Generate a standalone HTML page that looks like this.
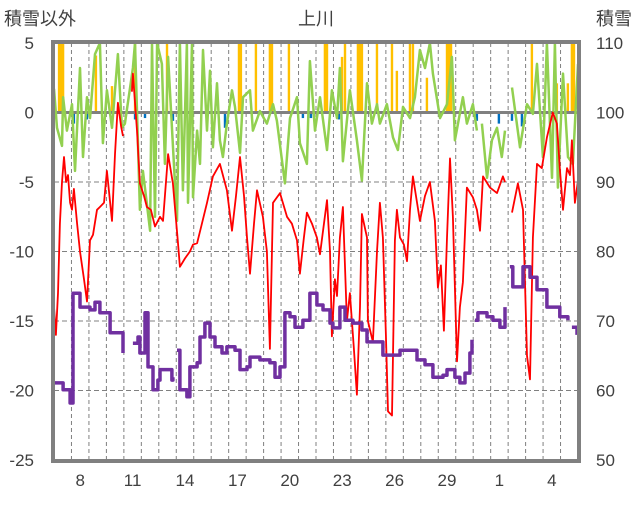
<!DOCTYPE html>
<html><head><meta charset="utf-8"><style>
html,body{margin:0;padding:0;background:#fff;}
svg text{font-family:"Liberation Sans","Noto Sans CJK JP",sans-serif;fill:#404040;}
</style></head><body>
<svg id="chart" width="636" height="501" xmlns="http://www.w3.org/2000/svg">
<g id="grid"></g>
<g id="marks"></g>
<g id="axes"></g>
<text x="4" y="25" font-size="18">積雪以外</text>
<text x="316" y="25" font-size="18" text-anchor="middle">上川</text>
<text x="632" y="25" font-size="18" text-anchor="end">積雪</text>
</svg>
<script>
const leftTicks=[5,0,-5,-10,-15,-20,-25];
const rightTicks=[110,100,90,80,70,60,50];
const dayTickPos=[1,4,7,10,13,16,19,22,25,28];
const dayTickLabels=["8","11","14","17","20","23","26","29","1","4"];
const redT=[0,.11,.23,.34,.46,.57,.69,.80,.92,1.03,1.14,1.32,1.49,1.72,1.89,2.06,2.23,2.46,2.63,2.86,3.03,3.32,3.49,3.66,3.84,3.95,null,4.46,4.52,4.75,4.92,5.15,5.32,5.55,5.78,6.07,6.24,6.53,6.81,7.10,7.21,7.50,7.78,7.96,8.19,8.47,8.76,9.10,9.50,9.90,10.19,10.42,10.65,10.88,11.05,11.22,11.45,11.62,11.96,12.19,12.36,12.54,12.94,13.34,13.62,13.91,14.08,14.31,14.48,14.77,15.05,15.23,15.63,15.80,15.91,16.08,16.20,16.37,16.54,16.77,16.94,17.17,17.34,17.52,17.63,17.92,17.97,18.26,18.49,18.66,18.83,19.00,19.12,19.35,19.52,19.63,19.81,20.03,20.21,20.38,20.55,20.95,21.24,21.52,21.81,21.98,22.15,22.32,22.50,22.67,22.84,23.07,23.24,23.41,23.64,23.98,24.21,24.39,24.56,24.96,25.36,25.70,25.82,null,26.22,26.56,26.85,27.08,27.25,27.42,27.65,27.93,28.22,28.56,28.79,28.96,29.14,29.37,29.54,29.65,29.82,30];
const redV=[-14,-16,-13,-8,-5,-3.2,-5,-4.5,-6.5,-7,-5.5,-8,-10,-12,-13.6,-9.2,-8.8,-7,-6.8,-6.5,-4.2,-7.8,-3,0.7,-1,-1.7,null,1.5,2.8,-1.3,-5.1,-6,-6.8,-7,-8.2,-7.5,-7.8,-3,-5.1,-9.4,-11.1,-10.5,-10,-9.5,-9.4,-8,-6.5,-4.6,-3.7,-5.6,-8.5,-6,-3.2,-6,-9,-11.6,-8,-5.6,-7.5,-10,-17,-6.5,-5.8,-7.5,-8,-9.2,-11.6,-9,-7.2,-8,-9,-10.2,-6.3,-10,-16.1,-12,-13.2,-9,-6.8,-15,-13,-17,-20.3,-14,-7.3,-9,-15,-16.5,-10,-6.5,-9,-16,-21.5,-21.8,-9.2,-7,-9,-9.5,-10.7,-7,-4.6,-7.8,-6,-5,-7.8,-12.6,-11,-15.7,-9,-3.3,-7.5,-17.9,-14,-12.2,-5.4,-6.1,-7,-8.5,-4.6,-5.4,-5.8,-4.6,-5,null,-7.2,-5.1,-7,-17.5,-19.2,-9,-3.7,-4,-1.8,0,-0.8,-4,-7,-4,-4.5,-2,-6.5,-4.9];
const greenT=[0,.17,.46,.52,.74,1.03,1.20,1.49,1.66,1.89,2.06,2.35,2.63,2.80,3.03,3.32,3.66,3.89,4.06,4.52,4.64,4.92,5.09,5.50,5.61,5.78,5.90,6.18,6.35,6.53,7.04,7.21,7.38,7.61,7.67,7.90,7.96,8.19,8.36,8.53,8.76,8.93,9.10,9.33,9.50,9.67,9.90,10.19,10.36,10.65,10.82,11.22,11.39,11.79,12.19,12.54,12.76,13.22,13.51,13.91,14.08,14.48,14.65,14.94,15.23,15.63,15.91,16.20,16.37,16.54,16.94,17.34,17.63,17.92,18.20,18.49,18.66,19.06,19.41,19.69,19.98,20.38,20.66,20.95,21.24,21.52,21.69,22.10,22.50,22.78,22.95,23.41,23.64,23.98,24.21,null,24.50,24.79,25.07,25.36,25.64,25.82,null,26.22,26.68,27.08,27.42,27.65,27.99,28.22,28.51,28.68,28.85,29.14,29.43,29.71,30];
const greenV=[1.7,-1.1,-2.4,1.1,-1.3,0.6,-4.2,3.2,-3.2,1.1,-0.4,4.2,5,-2.2,1.6,-1.1,4.2,-1.1,-0.8,3.2,5,-7,-4.2,-8.5,5,-7.5,5,3.5,-3.7,4,-7.8,5,-5.6,5,-6.5,5,-6.1,-1.3,-3.7,4.5,-1.3,3,-2.5,2.1,-2,-3.2,-0.8,1.6,0.4,-2.9,1.1,1.6,-1.3,0.1,-0.8,0.6,-0.6,-5.1,-0.4,1.1,-2.2,-3.7,3.7,-1.3,1.1,-2.7,1.6,-0.4,3.2,-3.5,1.6,-2,-4.9,2.1,-0.8,0.6,-0.8,0.6,-1.8,-2.7,0.4,-0.4,1.1,4.5,3.2,5,2.8,-0.4,0.6,4,-2,1.1,-0.8,0.6,-1.3,null,-0.8,-4.7,-2,-1.1,-3.2,-1.3,null,1.8,-2.5,0.6,-0.1,3.5,-3.2,5,-4.7,5,-5.4,2.8,-3.2,-3.7,3.5];
const snowT=[0,.52,.92,1.09,1.49,2.06,2.35,2.63,3.21,3.95,null,4.52,4.81,4.92,5.21,5.38,5.67,5.95,6.07,6.47,6.75,6.81,null,7.04,7.21,7.61,7.78,8.19,8.36,8.64,8.93,9.22,9.62,9.90,10.36,10.65,11.05,11.22,11.79,12.36,12.65,12.94,13.22,13.51,13.80,14.25,14.65,15.05,15.40,15.80,15.97,16.37,16.66,17.11,17.63,17.92,18.37,18.83,19.63,19.81,20.55,20.78,21.24,21.69,22.27,22.50,22.95,23.24,23.53,23.81,23.93,null,24.10,24.27,24.79,25.13,25.53,25.82,null,26.10,26.27,26.68,26.85,27.25,27.65,28.22,28.68,28.96,29.42,null,29.65,29.94];
const snowV=[61.1,60.1,58.2,74,72,71.6,72.7,71.2,68.3,65.4,null,66.8,67.7,65.4,71.2,63.4,60.1,61.5,63,63,61.5,61.9,null,65.8,60.1,59.1,63.4,64,67.7,69.7,67.7,66.3,65.4,66.3,65.8,63,63.4,64.8,64.4,64,61.9,63.4,71.2,70.6,69.1,70.1,74,72.3,71.6,69.7,69,72,70.1,69.7,68.7,67,67,65.1,65.1,65.8,65.8,64.4,63.7,61.9,62.2,63,61.9,61.1,62.5,65.4,67.3,null,70.1,71.2,70.6,70.1,69.1,72,null,77.8,74.9,74.9,77.8,76.3,74.5,72,72,70.6,70.1,null,69.1,68];
const precipT=[.29,.40,.52,2.40,3.32,4.64,6.47,10.59,10.70,11.56,12.36,12.48,13.45,15.51,15.63,16.49,16.66,17.40,17.52,17.63,18.49,19.35,19.63,20.38,20.55,21.35,22.50,22.61,22.73,27.36,28.79,29.42,29.65,29.77];
const precipV=[5,5,5,4.1,1.9,5,5,5,5,5,5,5,5,5,5,4,5,5,5,5,5,5,3,5,5,2.5,5,5,5,5,2.1,2.1,5,5];
const negT=[1.14,1.89,4.64,5.21,6.81,9.79,14.25,14.71,16.31,24.21,25.47,26.22,26.79];
const negV=[-0.8,-0.5,-0.5,-0.4,-0.6,-1.1,-0.4,-0.4,-0.5,-0.6,-0.8,-0.6,-1.0];

const X0=54,X1=578,Y0=43,Y1=460,ND=30;
const xs=t=>X0+(X1-X0)*t/ND;
const yL=v=>Y0+(5-v)*(Y1-Y0)/30;
const yR=v=>Y0+(110-v)*(Y1-Y0)/60;
const NS="http://www.w3.org/2000/svg";
function mk(tag,parent){const e=document.createElementNS(NS,tag);parent.appendChild(e);return e;}
const grid=document.getElementById('grid'),marks=document.getElementById('marks'),axes=document.getElementById('axes');
for(let d=1;d<ND;d++){const l=mk('line',grid);


l.setAttribute('x1',xs(d));l.setAttribute('x2',xs(d));l.setAttribute('y1',Y0);l.setAttribute('y2',Y1);l.setAttribute('stroke','#808080');l.setAttribute('stroke-dasharray','4,3');l.setAttribute('stroke-width','1');}
leftTicks.forEach(v=>{if(v===5||v===-25||v===0)return;const l=mk('line',grid);


l.setAttribute('x1',X0);l.setAttribute('x2',X1);l.setAttribute('y1',yL(v));l.setAttribute('y2',yL(v));l.setAttribute('stroke','#808080');l.setAttribute('stroke-dasharray','5,3');});
function bars(T,V,color,name){T.forEach((t,i)=>{const r=mk('rect',marks);


const y=Math.min(yL(0),yL(V[i])),h=Math.abs(yL(V[i])-yL(0));r.setAttribute('x',xs(t)-1.2);r.setAttribute('width',2.4);r.setAttribute('y',y);r.setAttribute('height',h);r.setAttribute('fill',color);});}
bars(precipT,precipV,'#FFC000','precip-bar');
bars(negT,negV,'#0070C0','negative-bar');
function line(T,V,ys,color,w,name,step){let d='',pen=false,py=0;T.forEach((t,i)=>{if(t===null||V[i]===null){pen=false;return;}const x=xs(t).toFixed(1),y=ys(V[i]).toFixed(1);if(pen&&step){d+='L'+x+' '+py;}d+=(pen?'L':'M')+x+' '+y;py=y;pen=true;});const p=mk('path',marks);


p.setAttribute('d',d);p.setAttribute('fill','none');p.setAttribute('stroke',color);p.setAttribute('stroke-width',w);p.setAttribute('stroke-linejoin','round');}
const zl=mk('line',marks);


zl.setAttribute('x1',X0);zl.setAttribute('x2',X1);zl.setAttribute('y1',yL(0));zl.setAttribute('y2',yL(0));zl.setAttribute('stroke','#808080');zl.setAttribute('stroke-width','3');
line(greenT,greenV,yL,'#92D050',2.5,'green-series-line',false);
line(redT,redV,yL,'#FF0000',1.8,'temperature-line',false);
line(snowT,snowV,yR,'#7030A0',3.5,'snow-depth-line',true);
const fr=mk('rect',axes);


fr.setAttribute('x',X0-1);fr.setAttribute('y',Y0-1);fr.setAttribute('width',X1-X0+2);fr.setAttribute('height',Y1-Y0+2);fr.setAttribute('fill','none');fr.setAttribute('stroke','#808080');fr.setAttribute('stroke-width','4');
leftTicks.forEach(v=>{const t=mk('text',axes);


t.setAttribute('x',34);t.setAttribute('y',yL(v)+6);t.setAttribute('text-anchor','end');t.setAttribute('font-size','17');t.textContent=String(v);});
rightTicks.forEach(v=>{const t=mk('text',axes);


t.setAttribute('x',596);t.setAttribute('y',yR(v)+6);t.setAttribute('font-size','17');t.textContent=String(v);});
dayTickPos.forEach((d,i)=>{const t=mk('text',axes);


t.setAttribute('x',xs(d+0.5));t.setAttribute('y',486);t.setAttribute('text-anchor','middle');t.setAttribute('font-size','17');t.textContent=dayTickLabels[i];});
</script>
</body></html>
